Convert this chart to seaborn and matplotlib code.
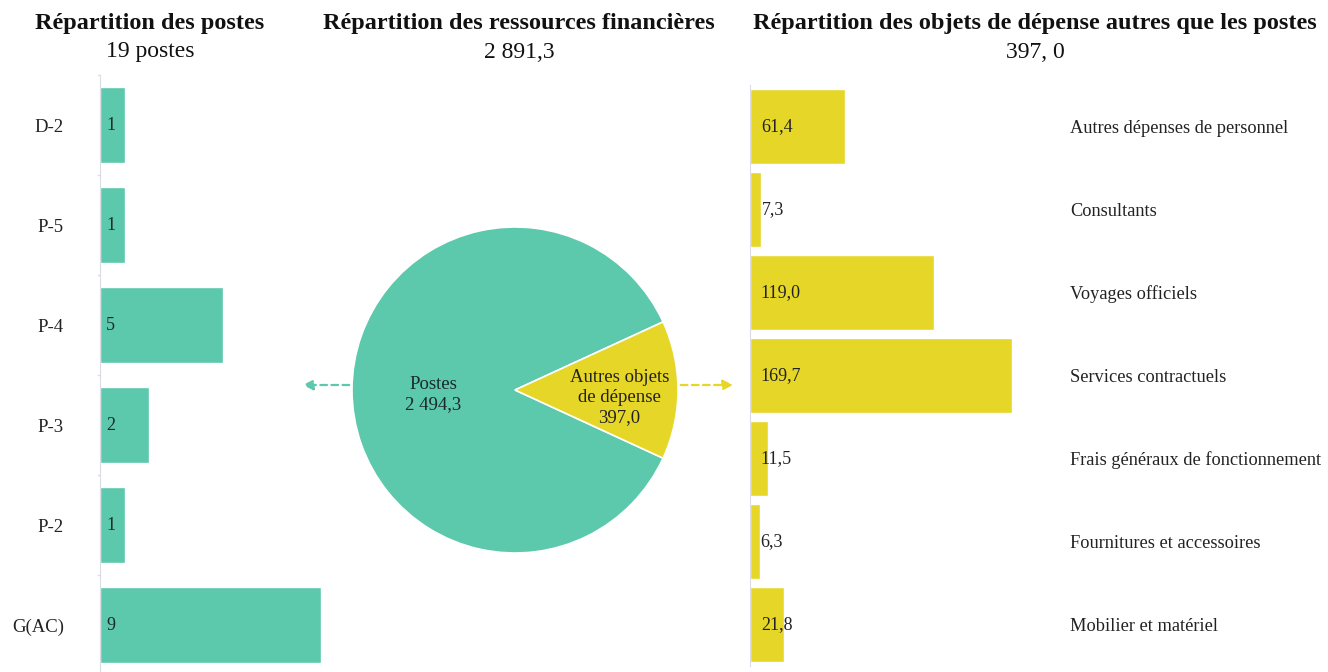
import matplotlib
matplotlib.use("Agg")
import pandas as pd
import seaborn as sns
import matplotlib.pyplot as plt
from matplotlib.patches import FancyArrowPatch

sns.set_style("white")
plt.rcParams["font.family"] = ["Liberation Serif", "DejaVu Serif"]

# -----------------------------------------------------------
# Data
# -----------------------------------------------------------
grades = ["D-2", "P-5", "P-4", "P-3", "P-2", "G(AC)"]
postes = [1, 1, 5, 2, 1, 9]

pie_labels = ["Postes\n2 494,3", "Autres objets\nde dépense\n397,0"]
pie_values = [2494.3, 397.0]

objets = ["Autres dépenses de personnel", "Consultants", "Voyages officiels",
          "Services contractuels", "Frais généraux de fonctionnement",
          "Fournitures et accessoires", "Mobilier et matériel"]
montants = [61.4, 7.3, 119.0, 169.7, 11.5, 6.3, 21.8]

TEAL = "#5CC8AC"
YELLOW = "#E5D628"
SPINE = "#d9dde3"

fmt = lambda v: f"{v:.1f}".replace(".", ",")

fig = plt.figure(figsize=(13.28, 6.72), dpi=100)
W, H = 1328, 672

def px_axes(x0, y0, x1, y1):
    return fig.add_axes([x0 / W, 1 - y1 / H, (x1 - x0) / W, (y1 - y0) / H])

# -----------------------------------------------------------
# Left: postes by grade
# -----------------------------------------------------------
ax1 = px_axes(100, 75, 346, 672)
df1 = pd.DataFrame({"grade": grades, "n": postes})
sns.barplot(data=df1, y="grade", x="n", color=TEAL, saturation=1,
            width=0.76, ax=ax1, orient="h")
ax1.set_xlim(0, 10)
ax1.set_ylim(5.47, -0.5)
ax1.set_xlabel("")
ax1.set_ylabel("")
ax1.set_xticks([])
ax1.tick_params(axis="y", length=0, pad=26, labelsize=13.5, labelcolor="#222222")
for s in ["top", "right", "bottom"]:
    ax1.spines[s].set_visible(False)
ax1.spines["left"].set_color(SPINE)
# small separator ticks between categories
for i in range(len(grades)):
    ax1.plot([-0.08, 0], [i - 0.5, i - 0.5], color=SPINE, lw=1, clip_on=False)
for i, v in enumerate(postes):
    ax1.text(0.25, i, str(v), va="center", ha="left", fontsize=13, color="#1a2a2a")

# -----------------------------------------------------------
# Middle: pie
# -----------------------------------------------------------
ax2 = px_axes(352, 227, 678, 553)
ax2.pie(pie_values, colors=[TEAL, YELLOW], startangle=24.7,
        wedgeprops={"edgecolor": "white", "linewidth": 1.2})
ax2.set_xlim(-1, 1)
ax2.set_ylim(-1, 1)
ax2.set_aspect("equal")
ax2.text(-0.5, -0.03, pie_labels[0], ha="center", va="center",
         fontsize=13.5, color="#1a2a2a", linespacing=1.25)
ax2.text(0.64, -0.045, pie_labels[1], ha="center", va="center",
         fontsize=13.5, color="#222222", linespacing=1.25)

# dashed arrows linking pie to bar panels
for x0, x1, c in [(352, 300, TEAL), (678, 736, YELLOW)]:
    fig.add_artist(FancyArrowPatch(
        (x0 / W, 1 - 385 / H), (x1 / W, 1 - 385 / H), transform=fig.transFigure,
        arrowstyle="-|>,head_length=6,head_width=3", linestyle=(0, (3, 2)),
        color=c, lw=1.6, mutation_scale=1))

# -----------------------------------------------------------
# Right: autres objets de dépense
# -----------------------------------------------------------
ax3 = px_axes(750, 85, 1059, 666)
df3 = pd.DataFrame({"objet": objets, "montant": montants})
sns.barplot(data=df3, y="objet", x="montant", color=YELLOW, saturation=1,
            width=0.91, ax=ax3, orient="h")
ax3.set_xlim(0, 200)
ax3.set_ylim(6.5, -0.5)
ax3.set_xlabel("")
ax3.set_ylabel("")
ax3.set_xticks([])
ax3.yaxis.tick_right()
ax3.tick_params(axis="y", length=0, pad=8, labelsize=13.2, labelcolor="#222222")
for s in ["top", "right", "bottom"]:
    ax3.spines[s].set_visible(False)
ax3.spines["left"].set_color(SPINE)
for i, v in enumerate(montants):
    x = 7 if v > 10 else v + 0.3
    ax3.text(x, i, fmt(v), va="center", ha="left", fontsize=13, color="#222222")

# -----------------------------------------------------------
# Titles
# -----------------------------------------------------------
titles = [(150, "Répartition des postes", "19 postes"),
          (519, "Répartition des ressources financières", "2 891,3"),
          (1035, "Répartition des objets de dépense autres que les postes", "397, 0")]
for x, t, sub in titles:
    fig.text(x / W, 1 - 23 / H, t, ha="center", va="center",
             fontsize=17.5, fontweight="bold", color="#111111")
    fig.text(x / W, 1 - 52 / H, sub, ha="center", va="center",
             fontsize=17, color="#111111")

fig.savefig("out.png", dpi=100)
